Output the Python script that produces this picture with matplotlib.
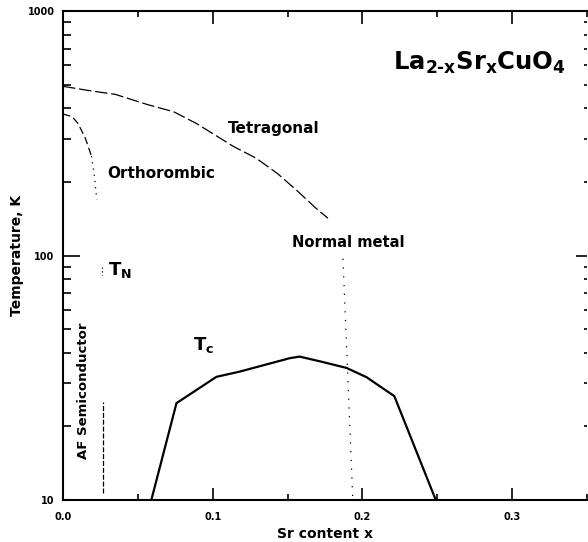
import matplotlib
matplotlib.use('Agg')
import matplotlib.pyplot as plt
from matplotlib.ticker import MultipleLocator, FormatStrFormatter, LogLocator, FuncFormatter, NullFormatter

plt.rcParams['font.family'] = 'DejaVu Sans'
plt.rcParams['font.weight'] = 'bold'
plt.rcParams['mathtext.fontset'] = 'dejavusans'

# tetragonal / orthorhombic boundary
tet_x = [0.0, 0.018, 0.035, 0.056, 0.074, 0.089, 0.114, 0.129, 0.143, 0.156, 0.169, 0.177]
tet_T = [492, 472, 456, 415, 387, 347, 279, 250, 217, 185, 156, 142]

# Neel temperature
tn_x = [0.0, 0.006, 0.010, 0.015, 0.019]
tn_T = [379, 370, 347, 301, 255]
tn_dot_x = [0.019, 0.0213, 0.0225]
tn_dot_T = [255, 204, 169]
tn_tail_x = [0.0258, 0.0258]
tn_tail_T = [90, 83]

# AF semiconductor limit
af_x = [0.027, 0.027]
af_T = [10.7, 25.2]

# normal metal boundary
nm_x = [0.187, 0.1935]
nm_T = [97, 10.3]

# superconducting Tc
tc_x = [0.059, 0.0758, 0.1025, 0.118, 0.1513, 0.158, 0.1733, 0.1893, 0.2027, 0.2213, 0.249]
tc_T = [10, 24.9, 31.9, 33.5, 38.0, 38.6, 36.7, 34.7, 31.8, 26.6, 10]

W, H = 588, 542
fig = plt.figure(figsize=(W / 100, H / 100), dpi=100)
ax = fig.add_axes([63 / W, 42 / H, (587 - 63) / W, 489 / H])

ax.set_yscale('log')
ax.set_xlim(0, 0.35)
ax.set_ylim(10, 1000)

ax.plot(tet_x, tet_T, color='black', lw=0.9, linestyle=(0, (10, 3)))
ax.plot(tn_x, tn_T, color='black', lw=0.9, linestyle=(0, (6, 3)))
ax.plot(tn_dot_x, tn_dot_T, color='black', lw=0.9, linestyle=(0, (1, 4)))
ax.plot(tn_tail_x, tn_tail_T, color='black', lw=0.9, linestyle=(0, (1, 2)))
ax.plot(af_x, af_T, color='black', lw=0.9, linestyle=(0, (4, 1.5)))
ax.plot(nm_x, nm_T, color='black', lw=0.9, linestyle=(0, (1, 6)))
ax.plot(tc_x, tc_T, color='black', lw=1.6, solid_joinstyle='miter')

# labels in the phase regions
ax.text(0.11, 332, 'Tetragonal', fontsize=11, fontweight='bold', va='center')
ax.text(0.0293, 217, 'Orthorombic', fontsize=11, fontweight='bold', va='center')
ax.text(0.153, 113, 'Normal metal', fontsize=10.6, fontweight='bold', va='center')
ax.text(0.030, 83, r'$\mathbf{T_N}$', fontsize=13, va='baseline')
ax.text(0.0867, 41.2, r'$\mathbf{T_c}$', fontsize=13, va='baseline')
ax.text(0.014, 27.9, 'AF Semiconductor', fontsize=9.5, fontweight='bold',
        rotation=90, ha='center', va='center')
ax.text(0.629, 0.879, r'$\mathbf{La_{2\text{-}x}Sr_xCuO_4}$', transform=ax.transAxes,
        fontsize=17.5, ha='left', va='baseline')

# axes, ticks
for s in ax.spines.values():
    s.set_linewidth(1.5)
ax.spines['right'].set_visible(False)

ax.xaxis.set_major_locator(MultipleLocator(0.1))
ax.xaxis.set_minor_locator(MultipleLocator(0.05))
ax.xaxis.set_major_formatter(FormatStrFormatter('%.1f'))
ax.yaxis.set_major_locator(LogLocator(base=10))
ax.yaxis.set_minor_locator(LogLocator(base=10, subs=range(2, 10)))
ax.yaxis.set_major_formatter(FuncFormatter(lambda v, p: '%d' % v))
ax.yaxis.set_minor_formatter(NullFormatter())

ax.tick_params(axis='x', which='both', direction='in', top=True, labelsize=7, pad=9, width=1.2)
ax.tick_params(axis='x', which='major', length=9)
ax.tick_params(axis='x', which='minor', length=4)
ax.tick_params(axis='y', which='both', direction='in', labelsize=7, pad=6, width=1.2)
ax.tick_params(axis='y', which='major', length=12)
ax.tick_params(axis='y', which='minor', length=6)

# right side ticks are shorter
ax2 = ax.twinx()
ax2.set_yscale('log')
ax2.set_ylim(10, 1000)
ax2.yaxis.set_major_locator(LogLocator(base=10))
ax2.yaxis.set_minor_locator(LogLocator(base=10, subs=range(2, 10)))
ax2.tick_params(axis='y', which='both', direction='in', labelright=False, width=1.2)
ax2.tick_params(axis='y', which='major', length=8)
ax2.tick_params(axis='y', which='minor', length=2)
for s in ax2.spines.values():
    s.set_visible(False)

ax.set_xlabel('Sr content x', fontsize=10, fontweight='bold', labelpad=3)
ax.set_ylabel('Temperature, K', fontsize=10, fontweight='bold')
ax.yaxis.set_label_coords(-(63 - 24) / 524, 0.5)

fig.savefig('out.png', dpi=100)
